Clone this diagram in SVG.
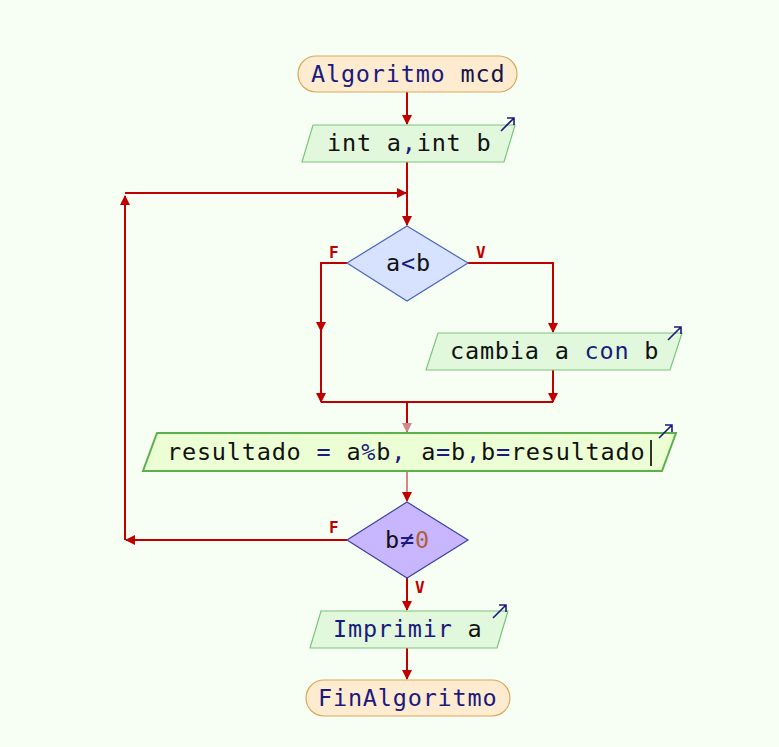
<svg xmlns="http://www.w3.org/2000/svg" width="779" height="747" viewBox="0 0 779 747">
<style>
.t{font-family:"DejaVu Sans Mono","Liberation Mono",monospace;font-size:23.5px;letter-spacing:0.8px;fill:#111}
.k{fill:#1a1a80}
.n{fill:#b0603a}
.lbl{font-family:"DejaVu Sans Mono","Liberation Mono",monospace;font-size:16px;font-weight:bold;fill:#c00000}
.term{fill:#ffecd0;stroke:#d9a85c;stroke-width:1.2}
.io{fill:#e2f8dc;stroke:#7cc47c;stroke-width:1.2}
.ioa{fill:#ecffd4;stroke:#5cb04c;stroke-width:2}
.dec{fill:#d6e2ff;stroke:#4a64c0;stroke-width:1.2}
.dec2{fill:#c8b6ff;stroke:#4040a0;stroke-width:1.2}
.c{fill:none;stroke:#c00000;stroke-width:2}
.cl{fill:none;stroke:#d08a8a;stroke-width:2}
.ico{fill:none;stroke:#1a1a80;stroke-width:1.6}
</style>
<defs>
<marker id="ah" markerWidth="10" markerHeight="10" refX="9" refY="5" orient="auto" markerUnits="userSpaceOnUse">
<path d="M0,0 L10,5 L0,10 z" fill="#c00000"/>
</marker>
<marker id="ahl" markerWidth="10" markerHeight="10" refX="9" refY="5" orient="auto" markerUnits="userSpaceOnUse">
<path d="M0,0 L10,5 L0,10 z" fill="#d08a8a"/>
</marker>
</defs>
<rect width="779" height="747" fill="#f7fff4"/>

<g id="connectors">
<path class="c" d="M407,92 V124" marker-end="url(#ah)"/>
<path class="c" d="M407,162 V225" marker-end="url(#ah)"/>
<path class="c" d="M347,263 H321 V331" marker-end="url(#ah)"/>
<path class="c" d="M321,328 V402" marker-end="url(#ah)"/>
<path class="c" d="M468,263 H553 V332" marker-end="url(#ah)"/>
<path class="c" d="M553,370 V402" marker-end="url(#ah)"/>
<path class="c" d="M321,402 H553"/>
<path class="c" d="M407,402 V432" marker-end="url(#ahl)"/>
<path class="cl" d="M407,471 V501" marker-end="url(#ah)"/>
<path class="c" d="M347,540 H126" marker-end="url(#ah)"/>
<path class="c" d="M125,540 V196" marker-end="url(#ah)"/>
<path class="c" d="M125,193 H406" marker-end="url(#ah)"/>
<path class="c" d="M407,578 V610" marker-end="url(#ah)"/>
<path class="c" d="M407,648 V679" marker-end="url(#ah)"/>
<text class="lbl" x="329" y="258">F</text>
<text class="lbl" x="476" y="258">V</text>
<text class="lbl" x="329" y="533">F</text>
<text class="lbl" x="415" y="593">V</text>
</g>

<g id="start">
<rect class="term" x="298" y="56" width="219" height="36" rx="18"/>
<text class="t" x="311" y="82"><tspan class="k">Algoritmo</tspan> <tspan fill="#15154a">mcd</tspan></text>
</g>

<g id="input">
<polygon class="io" points="313,125 515,125 504,162 302,162"/>
<text class="t" x="327" y="151">int a<tspan class="k">,</tspan>int b</text>
<path class="ico" d="M501,131 L514,118 M507,118 H514 V125"/>
</g>

<g id="cond1">
<polygon class="dec" points="407,226 468,263 407,301 347,263"/>
<text class="t" x="386" y="271">a<tspan class="k">&lt;</tspan>b</text>
</g>

<g id="swap">
<polygon class="io" points="438,333 682,333 670,370 426,370"/>
<text class="t" x="450" y="359">cambia a <tspan class="k">con</tspan> b</text>
<path class="ico" d="M668,340 L681,327 M674,327 H681 V334"/>
</g>

<g id="assign">
<polygon class="ioa" points="157,433 676,433 662,471 143,471"/>
<text class="t" x="167" y="460">resultado <tspan class="k">=</tspan> a<tspan class="k">%</tspan>b<tspan class="k">,</tspan> a<tspan class="k">=</tspan>b<tspan class="k">,</tspan>b<tspan class="k">=</tspan>resultado</text>
<path d="M651,440 V466" stroke="#000" stroke-width="1.6"/>
<path class="ico" d="M659,438 L672,425 M665,425 H672 V432"/>
</g>

<g id="cond2">
<polygon class="dec2" points="407,502 468,540 407,578 347,540"/>
<text class="t" x="385" y="548">b<tspan class="k">≠</tspan><tspan class="n">0</tspan></text>
</g>

<g id="output">
<polygon class="io" points="321,611 508,611 497,648 310,648"/>
<text class="t" x="333" y="637"><tspan class="k">Imprimir</tspan> a</text>
<path class="ico" d="M493,618 L506,605 M499,605 H506 V612"/>
</g>

<g id="end">
<rect class="term" x="306" y="680" width="204" height="36" rx="18"/>
<text class="t" x="318" y="706"><tspan class="k">FinAlgoritmo</tspan></text>
</g>
</svg>
